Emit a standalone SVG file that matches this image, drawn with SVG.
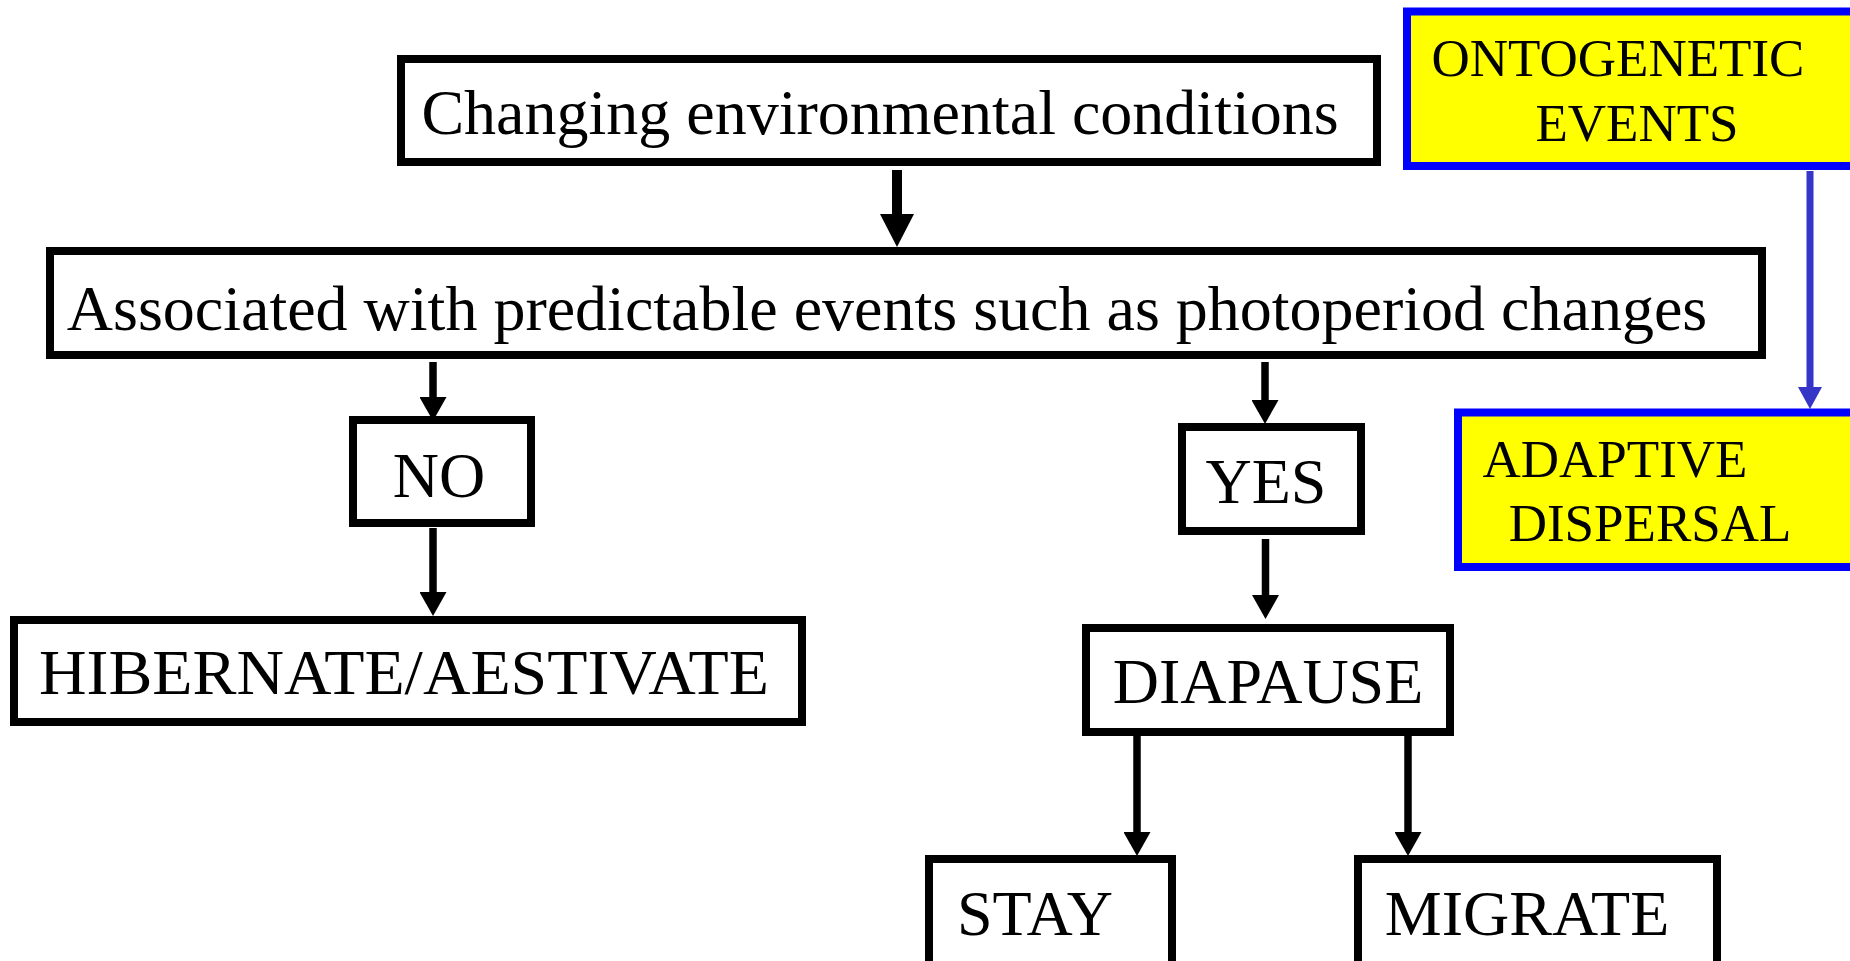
<svg xmlns="http://www.w3.org/2000/svg" width="1850" height="961" viewBox="0 0 1850 961">
<style>
.box{fill:#ffffff;stroke:#000000;stroke-width:8}
.ybox{fill:#ffff00;stroke:#0000ff;stroke-width:8}
.t{font-family:"Liberation Serif","Times New Roman",serif;font-size:64px;fill:#000000;text-anchor:middle}
.ty{font-family:"Liberation Serif","Times New Roman",serif;font-size:53px;fill:#000000;text-anchor:middle}
.c{stroke:#000000;stroke-width:7.5;fill:none}
.cb{stroke:#000000;stroke-width:10;fill:none}
.cblue{stroke:#3535c8;stroke-width:7;fill:none}
</style>
<defs>
<marker id="ah" markerUnits="userSpaceOnUse" markerWidth="24" markerHeight="27" viewBox="0 0 24 27" refX="1" refY="13.5" orient="auto">
<path d="M0,0 L24,13.5 L0,27 Z" fill="#000000"/>
</marker>
<marker id="ahBig" markerUnits="userSpaceOnUse" markerWidth="33" markerHeight="34" viewBox="0 0 33 34" refX="1" refY="17" orient="auto">
<path d="M0,0 L33,17 L0,34 Z" fill="#000000"/>
</marker>
<marker id="ahBlue" markerUnits="userSpaceOnUse" markerWidth="22" markerHeight="24" viewBox="0 0 22 24" refX="1" refY="12" orient="auto">
<path d="M0,0 L22,12 L0,24 Z" fill="#3535c8"/>
</marker>
</defs>
<g id="connectors">
<line class="cb" x1="897" y1="170" x2="897" y2="215" marker-end="url(#ahBig)"/>
<line class="c" x1="433" y1="362" x2="433" y2="398" marker-end="url(#ah)"/>
<line class="c" x1="433" y1="528" x2="433" y2="593" marker-end="url(#ah)"/>
<line class="c" x1="1265" y1="362" x2="1265" y2="401" marker-end="url(#ah)"/>
<line class="c" x1="1265.5" y1="539" x2="1265.5" y2="596" marker-end="url(#ah)"/>
<line class="c" x1="1137" y1="735" x2="1137" y2="833" marker-end="url(#ah)"/>
<line class="c" x1="1408" y1="735" x2="1408" y2="833" marker-end="url(#ah)"/>
<line class="cblue" x1="1810" y1="171" x2="1810" y2="388" marker-end="url(#ahBlue)"/>
</g>
<g id="changing">
<rect class="box" x="401" y="59" width="976" height="103"/>
<text class="t" x="880" y="134">Changing environmental conditions</text>
</g>
<g id="associated">
<rect class="box" x="50" y="251" width="1712" height="104"/>
<text class="t" x="887" y="330">Associated with predictable events such as photoperiod changes</text>
</g>
<g id="no">
<rect class="box" x="353" y="420" width="178" height="103"/>
<text class="t" x="439" y="497">NO</text>
</g>
<g id="yes">
<rect class="box" x="1182" y="427" width="179" height="104"/>
<text class="t" x="1266" y="503">YES</text>
</g>
<g id="hibernate">
<rect class="box" x="14" y="620" width="788" height="102"/>
<text class="t" x="404" y="694" textLength="730" lengthAdjust="spacingAndGlyphs">HIBERNATE/AESTIVATE</text>
</g>
<g id="diapause">
<rect class="box" x="1086" y="628" width="364" height="104"/>
<text class="t" x="1268" y="703">DIAPAUSE</text>
</g>
<g id="stay">
<rect class="box" x="929" y="859" width="243" height="140"/>
<text class="t" x="1035" y="935">STAY</text>
</g>
<g id="migrate">
<rect class="box" x="1358" y="859" width="359" height="140"/>
<text class="t" x="1527" y="935">MIGRATE</text>
</g>
<g id="ontogenetic">
<rect class="ybox" x="1407" y="11.5" width="500" height="154.5"/>
<text class="ty" x="1618" y="76">ONTOGENETIC</text>
<text class="ty" x="1637" y="141">EVENTS</text>
</g>
<g id="adaptive">
<rect class="ybox" x="1458" y="412.5" width="450" height="154.5"/>
<text class="ty" x="1615" y="477">ADAPTIVE</text>
<text class="ty" x="1650" y="541">DISPERSAL</text>
</g>
</svg>
